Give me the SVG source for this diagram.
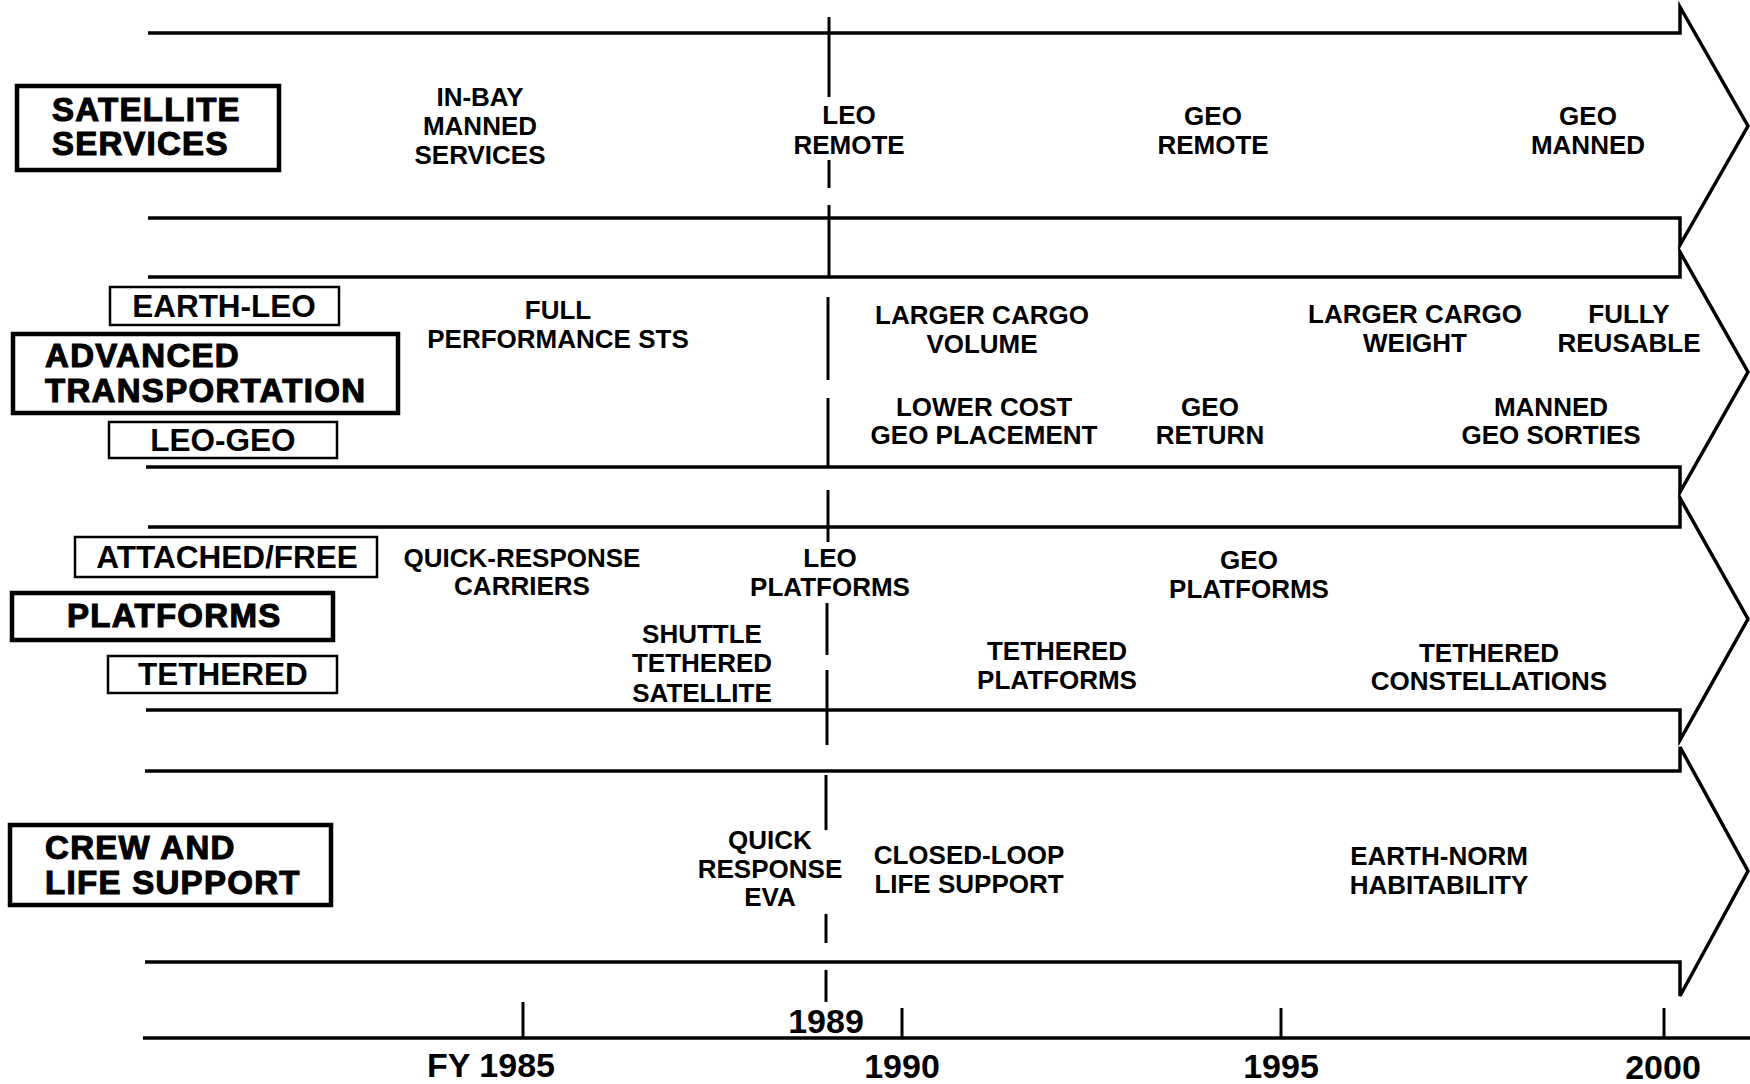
<svg xmlns="http://www.w3.org/2000/svg" width="1750" height="1084" viewBox="0 0 1750 1084">
<style>
.band{fill:none;stroke:#000;stroke-width:3.5;stroke-linejoin:miter}
.vl{stroke:#000;stroke-width:3;fill:none}
.tick{stroke:#000;stroke-width:3}
.tbox{fill:#fff;stroke:#000;stroke-width:4.5}
.sbox{fill:#fff;stroke:#000;stroke-width:2.5}
.title{font-family:"Liberation Sans",Arial,sans-serif;font-weight:bold;font-size:33px;letter-spacing:1.3px;stroke:#000;stroke-width:1.1;fill:#000}
.sub{font-family:"Liberation Sans",Arial,sans-serif;font-weight:bold;font-size:31.5px;text-anchor:middle;fill:#000}
.t{font-family:"Liberation Sans",Arial,sans-serif;font-weight:bold;font-size:26px;text-anchor:middle;fill:#000}
.yr{font-family:"Liberation Sans",Arial,sans-serif;font-weight:bold;font-size:34px;text-anchor:middle;fill:#000}
</style>
<rect width="1750" height="1084" fill="#fff"/>
<g id="connectors">
<path class="band" d="M148,33 L1680,33 L1680,7 L1748,126 L1680,245 L1680,218 L148,218"/>
<path class="band" d="M148,277 L1680,277 L1680,252 L1748,372 L1680,492 L1680,467 L146,467"/>
<path class="band" d="M148,527 L1680,527 L1680,498 L1748,619 L1680,740 L1680,710 L146,710"/>
<path class="band" d="M145,771 L1680,771 L1680,747 L1748,871 L1680,996 L1680,962 L145,962"/>
<path class="band" d="M143,1038 L1750,1038"/>
<path class="vl" d="M829,17 V97 M829,160 V188 M829,205 V277 M828,297 V380 M828,398 V467 M828,490 V542 M827,603 V655 M827,670 V745 M826,775 V830 M826,914 V943 M826,970 V1002"/>
<line class="tick" x1="523" y1="1002" x2="523" y2="1038"/>
<line class="tick" x1="902" y1="1008" x2="902" y2="1038"/>
<line class="tick" x1="1281" y1="1008" x2="1281" y2="1038"/>
<line class="tick" x1="1664" y1="1008" x2="1664" y2="1038"/>
</g>
<g id="satellite-services">
<rect class="tbox" x="17" y="86" width="262" height="84"/>
<text class="title" x="52" y="121">SATELLITE</text>
<text class="title" x="52" y="155">SERVICES</text>
</g>
<g id="advanced-transportation">
<rect class="tbox" x="13" y="334" width="385" height="79"/>
<text class="title" x="45" y="367">ADVANCED</text>
<text class="title" x="45" y="402">TRANSPORTATION</text>
</g>
<g id="earth-leo">
<rect class="sbox" x="110" y="287" width="229" height="38"/>
<text class="sub" x="224" y="317">EARTH-LEO</text>
</g>
<g id="leo-geo">
<rect class="sbox" x="109" y="422" width="228" height="36"/>
<text class="sub" x="223" y="451">LEO-GEO</text>
</g>
<g id="platforms">
<rect class="tbox" x="12" y="593" width="321" height="47"/>
<text class="title" x="67" y="627">PLATFORMS</text>
</g>
<g id="attached-free">
<rect class="sbox" x="75" y="537" width="302" height="40"/>
<text class="sub" x="227" y="568">ATTACHED/FREE</text>
</g>
<g id="tethered">
<rect class="sbox" x="108" y="656" width="229" height="37"/>
<text class="sub" x="223" y="685">TETHERED</text>
</g>
<g id="crew-life-support">
<rect class="tbox" x="10" y="825" width="321" height="80"/>
<text class="title" x="45" y="859">CREW AND</text>
<text class="title" x="45" y="894">LIFE SUPPORT</text>
</g>
<g id="row1-items">
<text class="t" x="480" y="106">IN-BAY</text>
<text class="t" x="480" y="135">MANNED</text>
<text class="t" x="480" y="164">SERVICES</text>
<text class="t" x="849" y="124">LEO</text>
<text class="t" x="849" y="154">REMOTE</text>
<text class="t" x="1213" y="125">GEO</text>
<text class="t" x="1213" y="154">REMOTE</text>
<text class="t" x="1588" y="125">GEO</text>
<text class="t" x="1588" y="154">MANNED</text>
</g>
<g id="row2-items">
<text class="t" x="558" y="319">FULL</text>
<text class="t" x="558" y="348">PERFORMANCE STS</text>
<text class="t" x="982" y="324">LARGER CARGO</text>
<text class="t" x="982" y="353">VOLUME</text>
<text class="t" x="1415" y="323">LARGER CARGO</text>
<text class="t" x="1415" y="352">WEIGHT</text>
<text class="t" x="1629" y="323">FULLY</text>
<text class="t" x="1629" y="352">REUSABLE</text>
<text class="t" x="984" y="416">LOWER COST</text>
<text class="t" x="984" y="444">GEO PLACEMENT</text>
<text class="t" x="1210" y="416">GEO</text>
<text class="t" x="1210" y="444">RETURN</text>
<text class="t" x="1551" y="416">MANNED</text>
<text class="t" x="1551" y="444">GEO SORTIES</text>
</g>
<g id="row3-items">
<text class="t" x="522" y="567">QUICK-RESPONSE</text>
<text class="t" x="522" y="595">CARRIERS</text>
<text class="t" x="830" y="567">LEO</text>
<text class="t" x="830" y="596">PLATFORMS</text>
<text class="t" x="1249" y="569">GEO</text>
<text class="t" x="1249" y="598">PLATFORMS</text>
<text class="t" x="702" y="643">SHUTTLE</text>
<text class="t" x="702" y="672">TETHERED</text>
<text class="t" x="702" y="702">SATELLITE</text>
<text class="t" x="1057" y="660">TETHERED</text>
<text class="t" x="1057" y="689">PLATFORMS</text>
<text class="t" x="1489" y="662">TETHERED</text>
<text class="t" x="1489" y="690">CONSTELLATIONS</text>
</g>
<g id="row4-items">
<text class="t" x="770" y="849">QUICK</text>
<text class="t" x="770" y="878">RESPONSE</text>
<text class="t" x="770" y="906">EVA</text>
<text class="t" x="969" y="864">CLOSED-LOOP</text>
<text class="t" x="969" y="893">LIFE SUPPORT</text>
<text class="t" x="1439" y="865">EARTH-NORM</text>
<text class="t" x="1439" y="894">HABITABILITY</text>
</g>
<g id="axis-labels">
<text class="yr" x="826" y="1033">1989</text>
<text class="yr" x="491" y="1077">FY 1985</text>
<text class="yr" x="902" y="1078">1990</text>
<text class="yr" x="1281" y="1078">1995</text>
<text class="yr" x="1663" y="1079">2000</text>
</g>
</svg>
